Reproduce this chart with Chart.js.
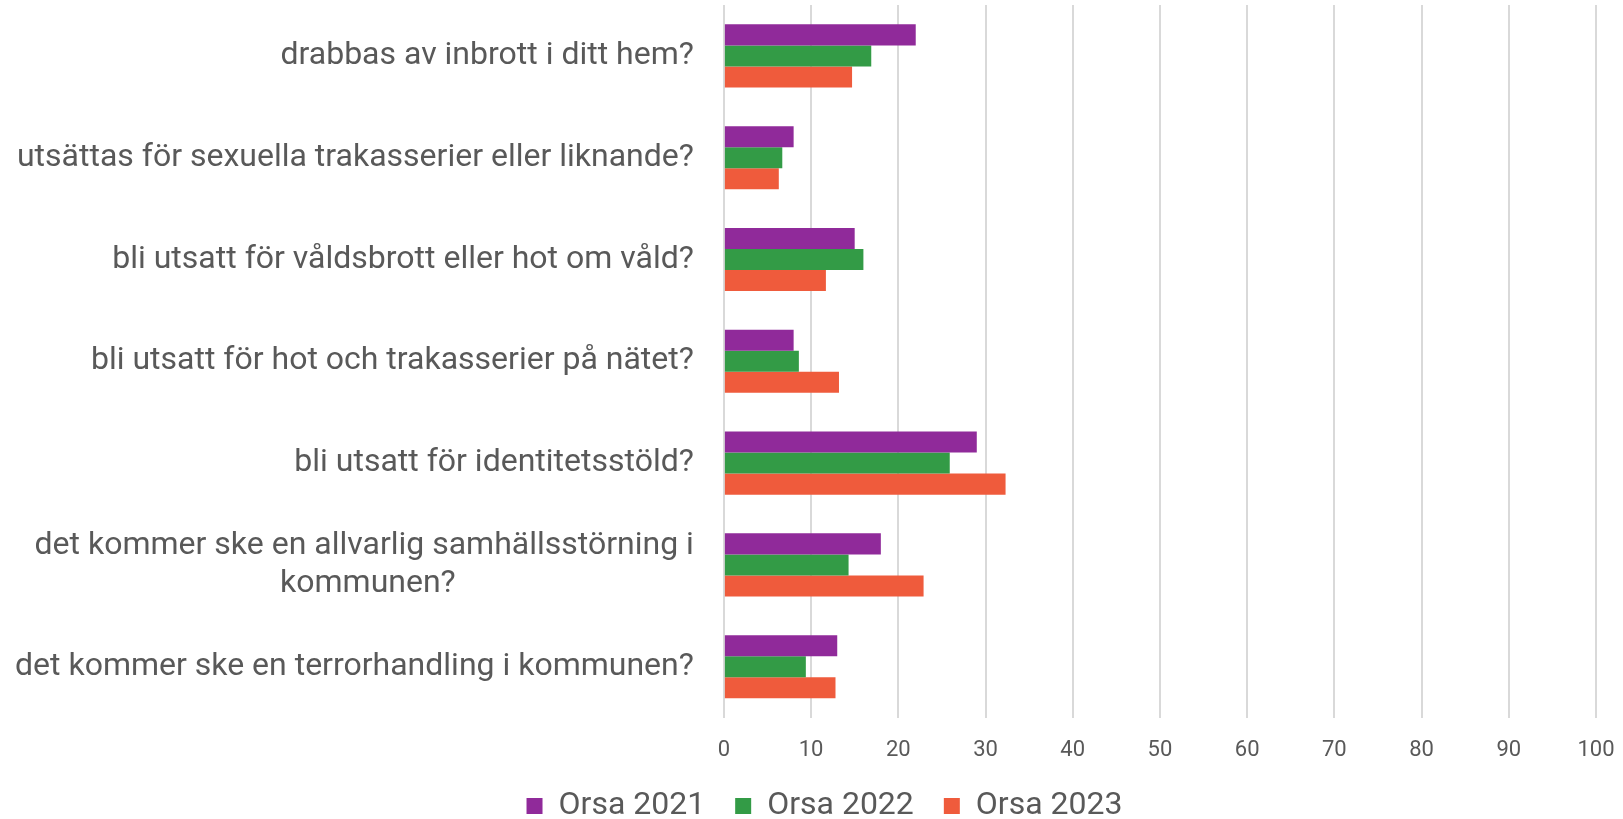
<!DOCTYPE html>
<html>
<head>
<meta charset="utf-8">
<script src="https://cdn.jsdelivr.net/npm/chart.js@4/dist/chart.umd.min.js"></script>
<style>
  body { margin: 0; background: #fff; }
  #wrap { width: 1623px; height: 819px; }
</style>
</head>
<body>
<div id="wrap"><canvas id="chart" width="1623" height="819"></canvas></div>
<script>
// Orsa - trygghet, andel oroliga (%)

const categories = [
  'drabbas av inbrott i ditt hem?',
  'utsättas för sexuella trakasserier eller liknande?',
  'bli utsatt för våldsbrott eller hot om våld?',
  'bli utsatt för hot och trakasserier på nätet?',
  'bli utsatt för identitetsstöld?',
  ['det kommer ske en allvarlig samhällsstörning i', 'kommunen?'],
  'det kommer ske en terrorhandling i kommunen?'
];
const seriesNames = ['Orsa 2021', 'Orsa 2022', 'Orsa 2023'];
const orsa2021 = [22.0, 8.0, 15.0, 8.0, 29.0, 18.0, 13.0];
const orsa2022 = [16.9, 6.7, 16.0, 8.6, 25.9, 14.3, 9.4];
const orsa2023 = [14.7, 6.3, 11.7, 13.2, 32.3, 22.9, 12.8];
const xTicks = [0, 10, 20, 30, 40, 50, 60, 70, 80, 90, 100];

const colors = ['#902A9A', '#339B46', '#EF5B3C'];
const textColor = '#595959';
const labelFont = { family: 'Roboto', size: 32 };

// center the second line of the wrapped label by padding it with spaces
function centerLines(lbl) {
  if (!Array.isArray(lbl)) return lbl;
  const c = document.createElement('canvas').getContext('2d');
  c.font = labelFont.size + 'px ' + labelFont.family;
  const widths = lbl.map(s => c.measureText(s).width);
  const maxW = Math.max(...widths);
  const sp = c.measureText(' ').width;
  return lbl.map((s, i) => s + ' '.repeat(Math.round((maxW - widths[i]) / 2 / sp)));
}

const datasets = [orsa2021, orsa2022, orsa2023].map((d, i) => ({
  label: seriesNames[i],
  data: d,
  backgroundColor: colors[i],
  borderWidth: 0,
  barPercentage: 1.0,
  categoryPercentage: 0.62
}));

// legend reserves little room in the layout, then gets moved to its spot
const legendNudge = {
  id: 'legendNudge',
  afterLayout(chart) {
    const lg = chart.legend;
    lg.left += 8; lg.right += 8;
    lg.top = 760; lg.bottom = chart.height;
    lg.height = lg.bottom - lg.top;
  }
};

new Chart(document.getElementById('chart'), {
  type: 'bar',
  data: { labels: categories.map(centerLines), datasets },
  plugins: [legendNudge],
  options: {
    indexAxis: 'y',
    responsive: false,
    animation: false,
    layout: { padding: { top: 5, right: 0, left: 10, bottom: 0 } },
    scales: {
      x: {
        min: 0,
        max: 100,
        afterBuildTicks: axis => { axis.ticks = xTicks.map(v => ({ value: v })); },
        afterFit: axis => { axis.paddingRight = 27; },
        grid: { color: '#d9d9d9', lineWidth: 2, drawTicks: false },
        border: { display: false },
        ticks: { color: textColor, font: { family: 'Roboto', size: 22 }, padding: 20 }
      },
      y: {
        grid: { display: false, drawTicks: false },
        border: { display: false },
        ticks: { color: textColor, font: labelFont, padding: 30, lineHeight: 1.15 },
        afterFit: axis => { axis.paddingTop = 0; axis.paddingBottom = 0; axis.width -= 25; }
      }
    },
    plugins: {
      legend: {
        position: 'bottom',
        maxHeight: 35,
        labels: {
          color: textColor,
          font: { family: 'Roboto', size: 32 },
          boxWidth: 16,
          boxHeight: 16,
          padding: 30
        }
      },
      tooltip: { enabled: false }
    }
  }
});
</script>
</body>
</html>
